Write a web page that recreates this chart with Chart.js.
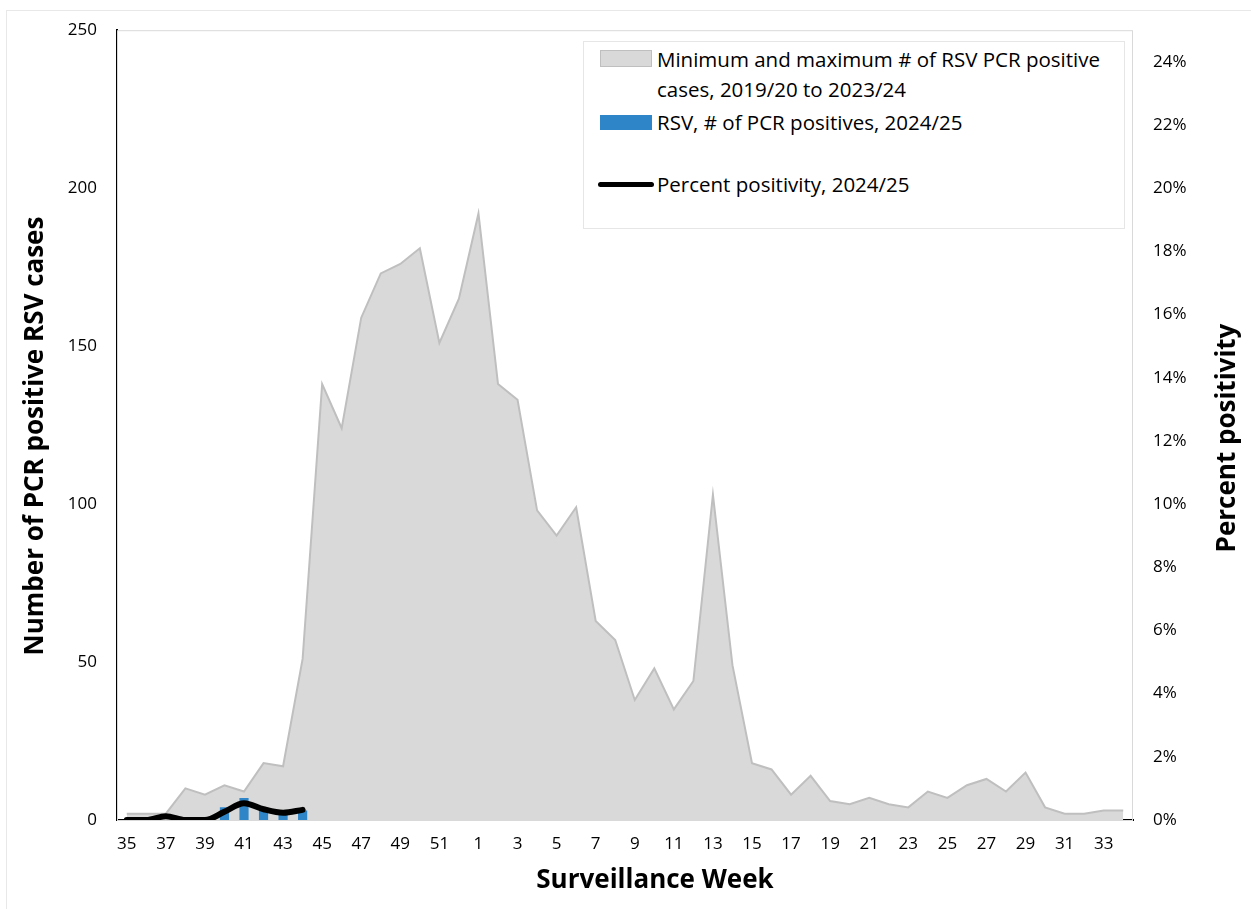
<!DOCTYPE html>
<html>
<head>
<meta charset="utf-8">
<script src="https://cdn.jsdelivr.net/npm/chart.js@4.4.1/dist/chart.umd.min.js"></script>
<style>
  html, body { margin: 0; padding: 0; background: #fff; }
  #wrap { position: relative; width: 1251px; height: 909px; overflow: hidden; font-family: "Open Sans", sans-serif; }
  #frame { position: absolute; left: 6px; top: 10px; width: 1300px; height: 1000px; border: 1px solid #e8e8e8; box-sizing: border-box; }
  #chart { position: absolute; left: 0; top: 0; }
  #legend { position: absolute; left: 583px; top: 41px; width: 542px; height: 188px; border: 1px solid #e6e6e6; background: #fff; box-sizing: border-box; }
  .sw { position: absolute; }
  .lt { position: absolute; left: 73px; font-size: 20.5px; line-height: 30px; color: #000; white-space: nowrap; }
</style>
</head>
<body>
<div id="wrap">
  <div id="frame"></div>
  <canvas id="chart" width="1251" height="909"></canvas>
  <div id="legend">
    <div class="sw" style="left:16px;top:8px;width:52px;height:17px;background:#d9d9d9;border:1px solid #bfbfbf;box-sizing:border-box;"></div>
    <div class="lt" style="top:2px;">Minimum and maximum # of RSV PCR positive<br>cases, 2019/20 to 2023/24</div>
    <div class="sw" style="left:16px;top:73px;width:52px;height:15px;background:#2e86c8;"></div>
    <div class="lt" style="top:65px;">RSV, # of PCR positives, 2024/25</div>
    <div class="sw" style="left:14px;top:140px;width:56px;height:5px;background:#000;border-radius:3px;"></div>
    <div class="lt" style="top:127px;">Percent positivity, 2024/25</div>
  </div>
</div>
<script>
// ── data ──────────────────────────────────────────────────────────────────
var weeks = [35, 36, 37, 38, 39, 40, 41, 42, 43, 44, 45, 46, 47, 48, 49, 50, 51, 52,
             1, 2, 3, 4, 5, 6, 7, 8, 9, 10, 11, 12, 13, 14, 15, 16, 17, 18, 19, 20,
             21, 22, 23, 24, 25, 26, 27, 28, 29, 30, 31, 32, 33, 34];

// max # of PCR positives over 2019/20 - 2023/24 (grey band)
var maxCases = [2, 2, 2, 10, 8, 11, 9, 18, 17, 51, 138, 124, 159, 173, 176, 181, 151, 165,
                192, 138, 133, 98, 90, 99, 63, 57, 38, 48, 35, 44, 103, 49, 18, 16, 8, 14, 6, 5,
                7, 5, 4, 9, 7, 11, 13, 9, 15, 4, 2, 2, 3, 3];

// 2024/25 season so far
var cases2425 = [0, 0, 0, 0, 0, 4, 7, 4, 3, 3];
var pct2425   = [0, 0, 0.12, 0, 0, 0.26, 0.53, 0.34, 0.23, 0.32];

var leftTicks  = [0, 50, 100, 150, 200, 250];
var rightTicks = [0, 2, 4, 6, 8, 10, 12, 14, 16, 18, 20, 22, 24];

var FONT = '"Open Sans"';

// ── plugins ───────────────────────────────────────────────────────────────
var plotBox = {
  id: 'plotBox',
  beforeDatasetsDraw: function(chart) {
    var a = chart.chartArea, ctx = chart.ctx;
    ctx.save();
    ctx.strokeStyle = '#d9d9d9';
    ctx.lineWidth = 1;
    ctx.strokeRect(a.left + 0.5, a.top + 0.5, a.right - a.left - 1, a.bottom - a.top);
    ctx.restore();
  }
};

var axisTitles = {
  id: 'axisTitles',
  afterDraw: function(chart) {
    var ctx = chart.ctx;
    function title(text, x, y, rot) {
      ctx.save();
      ctx.fillStyle = '#000';
      ctx.font = 'bold 26px ' + FONT;
      ctx.textAlign = 'center';
      ctx.textBaseline = 'middle';
      ctx.translate(x, y);
      if (rot) ctx.rotate(rot);
      ctx.fillText(text, 0, 0);
      ctx.restore();
    }
    title('Surveillance Week', 655, 881, 0);
    title('Number of PCR positive RSV cases', 36, 436, -Math.PI / 2);
    title('Percent positivity', 1228, 438, -Math.PI / 2);
  }
};

// ── chart ─────────────────────────────────────────────────────────────────
new Chart(document.getElementById('chart'), {
  data: {
    labels: weeks,
    datasets: [
      { type: 'line', label: 'Minimum and maximum # of RSV PCR positive cases, 2019/20 to 2023/24',
        data: maxCases, yAxisID: 'y', order: 3, fill: 'origin',
        backgroundColor: '#d9d9d9', borderColor: '#bfbfbf', borderWidth: 2,
        pointRadius: 0, tension: 0 },
      { type: 'bar', label: 'RSV, # of PCR positives, 2024/25',
        data: cases2425, yAxisID: 'y', order: 2,
        backgroundColor: '#2e86c8', categoryPercentage: 1, barPercentage: 0.47 },
      { type: 'line', label: 'Percent positivity, 2024/25',
        data: pct2425, yAxisID: 'y1', order: 1, fill: false,
        borderColor: '#000', borderWidth: 6, borderCapStyle: 'round', borderJoinStyle: 'round',
        pointRadius: 0, cubicInterpolationMode: 'monotone' }
    ]
  },
  options: {
    responsive: false,
    animation: false,
    devicePixelRatio: 1,
    layout: { padding: { top: 30, left: 0, right: 0, bottom: 0 } },
    plugins: { legend: { display: false }, tooltip: { enabled: false } },
    scales: {
      x: {
        type: 'category', offset: true,
        grid: { display: false, drawTicks: false, tickLength: 0 },
        border: { display: true, color: '#000', width: 2 },
        ticks: {
          autoSkip: false, maxRotation: 0, minRotation: 0, padding: 14,
          color: '#000', font: { family: FONT, size: 17 },
          callback: function(v, i) { return i % 2 === 0 ? weeks[i] : ''; }
        },
        afterFit: function(s) { s.height = 89; }
      },
      y: {
        position: 'left', min: 0, max: 250,
        grid: { display: false, drawTicks: false, tickLength: 0 },
        border: { display: true, color: '#000', width: 2 },
        afterBuildTicks: function(s) { s.ticks = leftTicks.map(function(v) { return { value: v }; }); },
        ticks: { padding: 20, color: '#000', font: { family: FONT, size: 17 } },
        afterFit: function(s) { s.width = 117; }
      },
      y1: {
        position: 'right', min: 0, max: 25,
        grid: { display: false, drawTicks: false, tickLength: 0 },
        border: { display: false },
        afterBuildTicks: function(s) { s.ticks = rightTicks.map(function(v) { return { value: v }; }); },
        ticks: { padding: 20, color: '#000', font: { family: FONT, size: 17 },
                 callback: function(v) { return v + '%'; } },
        afterFit: function(s) { s.width = 118; }
      }
    }
  },
  plugins: [plotBox, axisTitles]
});
</script>
</body>
</html>
